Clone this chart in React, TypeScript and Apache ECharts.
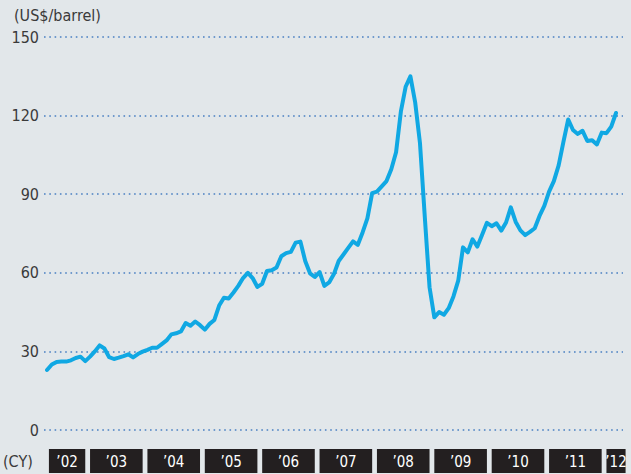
import React, { useEffect, useRef } from "react";
import * as echarts from "echarts";

// Monthly crude oil price, April 2002 – March 2012 (US$/barrel)
const firstYear = 2002;
const firstMonth = 4;
const prices = [
  22.9, 25, 26, 26.1, 26.1, 26.6, 27.5, 28, 26.3,
  28, 30, 32.3, 31.1, 27.8, 27.1, 27.6, 28.2, 28.9, 27.7, 29, 29.9,
  30.6, 31.4, 31.4, 32.8, 34.2, 36.5, 36.9, 37.6, 40.8, 39.8, 41.4, 40,
  38.3, 40.5, 42, 47.5, 50.5, 50.2, 52.5, 55, 58, 60, 58, 54.6,
  55.8, 60.7, 61, 62, 66.3, 67.5, 68, 71.5, 71.9, 64.5, 59.8, 58.4,
  60.3, 55, 56.3, 59.5, 64.5, 67, 69.5, 72, 70.7, 75.4, 80.8, 90.4,
  91, 93, 95, 99.5, 106, 121.5, 131, 135, 125, 109.5, 81.5, 54.5,
  43, 45, 44, 46.5, 51, 57, 69.7, 67.8, 72.8, 70, 74.5, 79.1,
  77.8, 78.9, 76.1, 79.2, 85, 79.5, 76.2, 74.4, 75.6, 77, 81.7, 85.5,
  91, 95, 101, 110, 118.5, 114.5, 113, 114.2, 110.3, 110.6, 109, 113.5,
  113.3, 115.8, 121,
];
const yTicks = [0, 30, 60, 90, 120, 150];
const yearLabels = ["’02", "’03", "’04", "’05", "’06", "’07", "’08", "’09", "’10", "’11", "’12"];
const unitLabel = "(US$/barrel)";
const calendarLabel = "(CY)";

const FONT = "'Liberation Sans Narrow', 'DejaVu Sans Condensed', 'Liberation Sans', sans-serif";

export default function App() {
  const ref = useRef<HTMLDivElement>(null);
  useEffect(() => {
    if (!ref.current) return;
    const chart = echarts.init(ref.current, undefined, { renderer: "svg" });

    const lineData = prices.map((v, i) => [i, v]);
    const lastIdx = prices.length - 1;
    const xMin = -0.63;
    const xMax = lastIdx + 1.46;
    const boxData = yearLabels.map((_, k) => {
      const jan = (firstYear + k - firstYear) * 12 - (firstMonth - 1);
      const s = Math.max(jan, 0.4);
      const e = Math.min(jan + 11, lastIdx + 2);
      return [s, e];
    });

    chart.setOption({
      animation: false,
      backgroundColor: "#e2e7ea",
      grid: [
        { left: 44, right: 8, top: 37, bottom: 44 },
        { left: 44, right: 8, top: 449, height: 24 },
      ],
      xAxis: [
        { type: "value", gridIndex: 0, min: xMin, max: xMax, show: false, splitLine: { show: false } },
        { type: "value", gridIndex: 1, min: xMin, max: xMax, show: false, splitLine: { show: false } },
      ],
      yAxis: [
        {
          type: "value",
          gridIndex: 0,
          min: yTicks[0],
          max: yTicks[yTicks.length - 1],
          interval: 30,
          axisLine: { show: false },
          axisTick: { show: false },
          axisLabel: {
            margin: 5,
            color: "#3a3a3a",
            fontSize: 16,
            fontFamily: FONT,
          },
          splitLine: {
            show: true,
            lineStyle: { color: "#4a80c2", width: 1.6, type: [1.6, 3.7] },
          },
        },
        { type: "value", gridIndex: 1, min: 0, max: 1, show: false, splitLine: { show: false } },
      ],
      graphic: [
        {
          type: "text",
          left: 14,
          top: 7,
          style: { text: unitLabel, fill: "#3a3a3a", font: `16px ${FONT}` },
        },
        {
          type: "text",
          left: 3,
          top: 453,
          style: { text: calendarLabel, fill: "#3a3a3a", font: `16px ${FONT}` },
        },
      ],
      series: [
        {
          type: "line",
          xAxisIndex: 0,
          yAxisIndex: 0,
          data: lineData,
          showSymbol: false,
          symbol: "none",
          lineStyle: { color: "#10a8e3", width: 4, cap: "round", join: "round" },
          z: 5,
        },
        {
          type: "custom",
          xAxisIndex: 1,
          yAxisIndex: 1,
          data: boxData,
          clip: false,
          renderItem: (params: any, api: any) => {
            const p0 = api.coord([api.value(0), 1]);
            const p1 = api.coord([api.value(1), 0]);
            const label = yearLabels[params.dataIndex];
            return {
              type: "group",
              children: [
                {
                  type: "rect",
                  shape: { x: p0[0], y: p0[1], width: p1[0] - p0[0], height: p1[1] - p0[1] },
                  style: { fill: "#231f20" },
                },
                {
                  type: "text",
                  style: {
                    text: label,
                    x: (p0[0] + p1[0]) / 2,
                    y: (p0[1] + p1[1]) / 2 + 1,
                    fill: "#ffffff",
                    font: `15px ${FONT}`,
                    align: "center",
                    verticalAlign: "middle",
                  },
                },
              ],
            };
          },
        },
      ],
    });
    return () => chart.dispose();
  }, []);

  return (
    <div
      style={{ position: "absolute", left: 0, top: 0, width: 631, height: 474, background: "#e2e7ea" }}
    >
      <div ref={ref} style={{ width: 631, height: 474 }} />
    </div>
  );
}
